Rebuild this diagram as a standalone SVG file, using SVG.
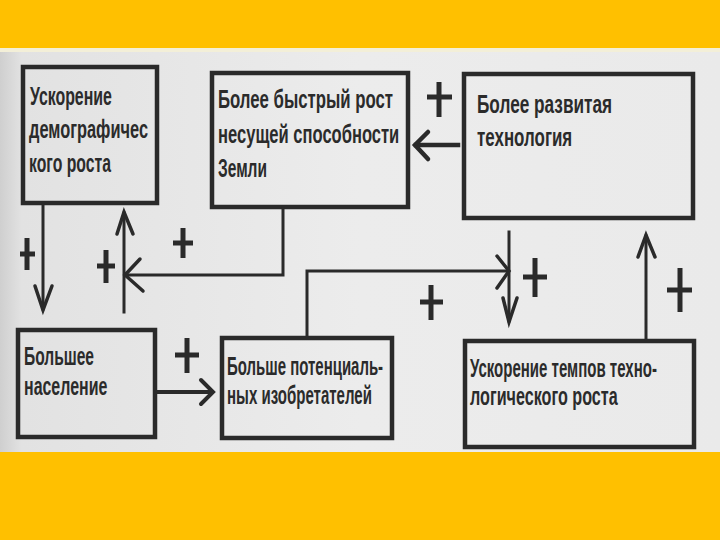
<svg xmlns="http://www.w3.org/2000/svg" width="720" height="540" viewBox="0 0 720 540">
<defs>
<style>
.box{fill:none;stroke:#2a2a2a;stroke-width:4.5}
.t{font-family:"Liberation Sans","DejaVu Sans",sans-serif;font-weight:bold;font-size:26px;fill:#2b2b2b}
.s{font-size:25px}
.ln{fill:none;stroke:#2a2a2a;stroke-width:3;stroke-linecap:square}
.ah{fill:none;stroke:#2a2a2a;stroke-width:3.5;stroke-linecap:round;stroke-linejoin:miter}
.pl{stroke:#2a2a2a;stroke-width:5;stroke-linecap:butt}
</style>
<linearGradient id="pg" x1="0" y1="0" x2="1" y2="0">
<stop offset="0" stop-color="#cfcfcf"/>
<stop offset="0.03" stop-color="#e2e2e2"/>
<stop offset="0.5" stop-color="#ececec"/>
<stop offset="1" stop-color="#eaeaea"/>
</linearGradient>
</defs>
<rect x="0" y="0" width="720" height="540" fill="url(#pg)"/>
<rect x="0" y="48" width="720" height="4" fill="#f3efd8"/>
<rect x="0" y="0" width="720" height="48" fill="#ffc000"/>
<rect x="0" y="452" width="720" height="88" fill="#ffc000"/>

<g id="n1">
<rect class="box" x="23" y="67" width="134" height="136"/>
<text class="t" transform="translate(30,105) scale(0.7,1)" textLength="117" lengthAdjust="spacingAndGlyphs">Ускорение</text>
<text class="t" transform="translate(29,138) scale(0.7,1)" textLength="170" lengthAdjust="spacingAndGlyphs">демографичес</text>
<text class="t" transform="translate(29,172) scale(0.7,1)" textLength="117" lengthAdjust="spacingAndGlyphs">кого роста</text>
</g>
<g id="n2">
<rect class="box" x="212" y="73" width="196" height="134"/>
<text class="t" transform="translate(218,108) scale(0.7,1)" textLength="250" lengthAdjust="spacingAndGlyphs">Более быстрый рост</text>
<text class="t" transform="translate(218,143) scale(0.7,1)" textLength="259" lengthAdjust="spacingAndGlyphs">несущей способности</text>
<text class="t" transform="translate(218,177) scale(0.7,1)" textLength="70" lengthAdjust="spacingAndGlyphs">Земли</text>
</g>
<g id="n3">
<rect class="box" x="464" y="74" width="229" height="144"/>
<text class="t" transform="translate(477,113) scale(0.7,1)" textLength="193" lengthAdjust="spacingAndGlyphs">Более развитая</text>
<text class="t" transform="translate(477,146) scale(0.7,1)" textLength="136" lengthAdjust="spacingAndGlyphs">технология</text>
</g>
<g id="n4">
<rect class="box" x="18" y="330" width="137" height="107"/>
<text class="t s" transform="translate(24,365) scale(0.7,1)" textLength="100" lengthAdjust="spacingAndGlyphs">Большее</text>
<text class="t s" transform="translate(24,395) scale(0.7,1)" textLength="119" lengthAdjust="spacingAndGlyphs">население</text>
</g>
<g id="n5">
<rect class="box" x="222" y="338" width="170" height="100"/>
<text class="t s" transform="translate(227,375) scale(0.7,1)" textLength="223" lengthAdjust="spacingAndGlyphs">Больше потенциаль-</text>
<text class="t s" transform="translate(227,404) scale(0.7,1)" textLength="207" lengthAdjust="spacingAndGlyphs">ных изобретателей</text>
</g>
<g id="n6">
<rect class="box" x="465" y="341" width="229" height="106"/>
<text class="t s" transform="translate(470,377) scale(0.7,1)" textLength="267" lengthAdjust="spacingAndGlyphs">Ускорение темпов техно-</text>
<text class="t s" transform="translate(470,405) scale(0.7,1)" textLength="211" lengthAdjust="spacingAndGlyphs">логического роста</text>
</g>

<g id="connectors">
<path class="ln" d="M43 205 V309"/>
<path class="ah" d="M35 286 L43 310 L52 286"/>
<path class="ln" d="M124 312 V213"/>
<path class="ah" d="M117 234 L124 212 L133 234"/>
<path class="ln" d="M283 209 V275 H126"/>
<path class="ah" d="M140 259 L125 275 L143 291"/>
<path class="ln" d="M307 336 V271 H508"/>
<path class="ah" d="M497 256 L509 271 L497 288"/>
<path class="ln" d="M509 232 V321"/>
<path class="ah" d="M503 298 L509 322 L517 298"/>
<path class="ln" d="M646 338 V236"/>
<path class="ah" d="M638 257 L646 235 L655 257"/>
<path class="ln" d="M159 392 H212" style="stroke-width:4"/>
<path class="ah" d="M201 380 L213 392 L201 404" style="stroke-width:4"/>
<path class="ln" d="M458 145 H416" style="stroke-width:4.5"/>
<path class="ah" d="M428 132 L415 145 L428 159" style="stroke-width:4.5"/>
</g>

<g id="signs">
<path class="pl" d="M20 254 H35 M27 238 V270"/>
<path class="pl" d="M97 266 H115 M106 250 V283"/>
<path class="pl" d="M173 243 H193 M183 228 V258"/>
<path class="pl" d="M427 97 H452 M439 82 V117"/>
<path class="pl" d="M175 355 H199 M187 338 V373"/>
<path class="pl" d="M420 302 H443 M431 285 V320"/>
<path class="pl" d="M523 277 H547 M535 258 V297"/>
<path class="pl" d="M667 290 H692 M680 268 V312"/>
</g>
</svg>
